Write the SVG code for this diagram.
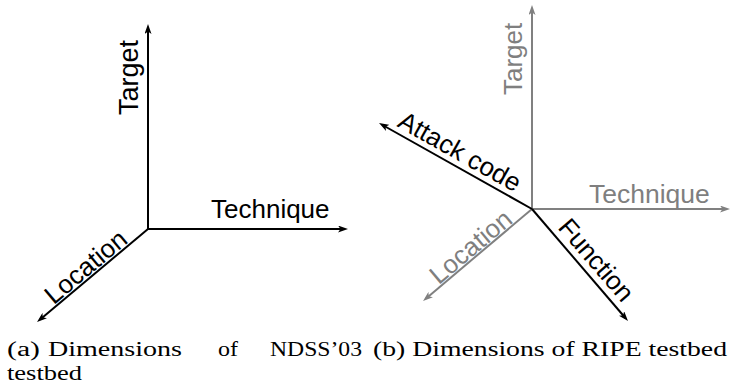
<svg xmlns="http://www.w3.org/2000/svg" width="731" height="390" viewBox="0 0 731 390">
  <style>
    .ax { stroke-width: 2; fill: none; }
    .blk { stroke: #000; }
    .gry { stroke: #808080; }
    .lbl { font-family: "Liberation Sans", Arial, sans-serif; font-size: 26px; }
    .lblk { fill: #000; }
    .lgry { fill: #7f7f7f; }
    .cap { font-family: "Liberation Serif", "Times New Roman", serif; font-size: 20px; fill: #000; }
  </style>
  <defs>
    <marker id="ahB" viewBox="0 0 10 7" refX="6" refY="3.5" markerWidth="10" markerHeight="7" markerUnits="userSpaceOnUse" orient="auto">
      <path d="M0,0 L10,3.5 L0,7 L2.5,3.5 z" fill="#000"/>
    </marker>
    <marker id="ahG" viewBox="0 0 10 7" refX="6" refY="3.5" markerWidth="10" markerHeight="7" markerUnits="userSpaceOnUse" orient="auto">
      <path d="M0,0 L10,3.5 L0,7 L2.5,3.5 z" fill="#808080"/>
    </marker>
  </defs>

  <!-- axes of panel (a) and panel (b) -->
  <g id="connectors">
    <line class="ax blk" x1="148" y1="229" x2="148" y2="28" marker-end="url(#ahB)"/>
    <line class="ax blk" x1="148" y1="229" x2="344" y2="229" marker-end="url(#ahB)"/>
    <line class="ax blk" x1="148" y1="229" x2="40.1" y2="319.4" marker-end="url(#ahB)"/>

    <line class="ax gry" x1="532" y1="209" x2="532" y2="9" marker-end="url(#ahG)"/>
    <line class="ax gry" x1="532" y1="209" x2="726" y2="209" marker-end="url(#ahG)"/>
    <line class="ax gry" x1="532" y1="209" x2="426.1" y2="298.4" marker-end="url(#ahG)"/>
    <line class="ax blk" x1="532" y1="209" x2="382.5" y2="125" marker-end="url(#ahB)"/>
    <line class="ax blk" x1="532" y1="209" x2="625.4" y2="318" marker-end="url(#ahB)"/>
  </g>

  <!-- panel (a) axis labels -->
  <g id="a-target"><text class="lbl lblk" style="font-size:27px" transform="translate(137.5,115) rotate(-90)">Target</text></g>
  <g id="a-technique"><text class="lbl lblk" x="211" y="218">Technique</text></g>
  <g id="a-location"><text class="lbl lblk" text-anchor="end" transform="translate(129,242) rotate(-40)">Location</text></g>

  <!-- panel (b) axis labels -->
  <g id="b-target"><text class="lbl lgry" transform="translate(521.7,95) rotate(-90)">Target</text></g>
  <g id="b-technique"><text class="lbl lgry" style="font-size:26.5px" x="589" y="203">Technique</text></g>
  <g id="b-location"><text class="lbl lgry" text-anchor="end" transform="translate(514,222) rotate(-40)">Location</text></g>
  <g id="b-attack"><text class="lbl lblk" transform="translate(396.3,126) rotate(29.3)">Attack code</text></g>
  <g id="b-function"><text class="lbl lblk" transform="translate(557,228) rotate(49.1)">Function</text></g>

  <!-- captions -->
  <g id="captions">
    <text class="cap" x="7" y="356" textLength="33" lengthAdjust="spacingAndGlyphs">(a)</text>
    <text class="cap" x="48" y="356" textLength="134" lengthAdjust="spacingAndGlyphs">Dimensions</text>
    <text class="cap" x="218" y="356" textLength="20" lengthAdjust="spacingAndGlyphs">of</text>
    <text class="cap" x="270" y="356" textLength="92" lengthAdjust="spacingAndGlyphs">NDSS’03</text>
    <text class="cap" x="7" y="380" textLength="75" lengthAdjust="spacingAndGlyphs">testbed</text>
    <text class="cap" x="373" y="356" textLength="354" lengthAdjust="spacingAndGlyphs">(b) Dimensions of RIPE testbed</text>
  </g>
</svg>
